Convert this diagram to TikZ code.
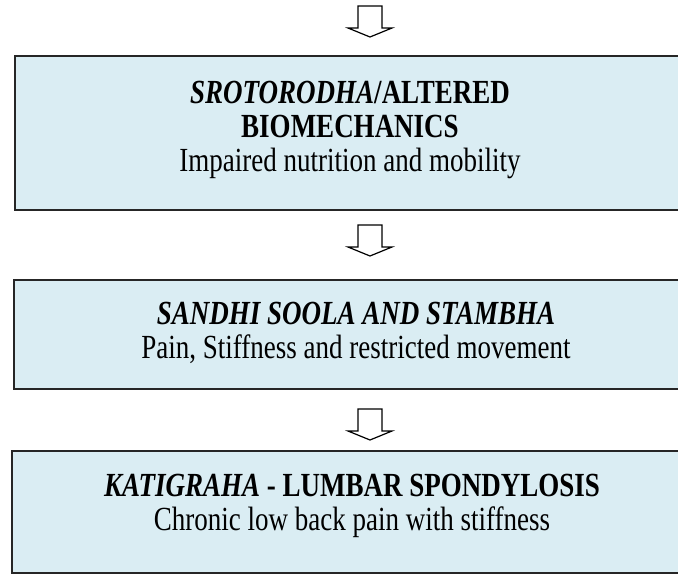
\documentclass[tikz,border=0pt]{standalone}
\usepackage{graphicx}
\usepackage{fontspec}
\setmainfont{Liberation Serif}
\definecolor{boxfill}{HTML}{DAEDF3}
\newcommand{\tallstack}[1]{\scalebox{1}[1.25]{\fontsize{27}{27.2}\selectfont\begin{tabular}{@{}c@{}}#1\end{tabular}}}
\begin{document}
\begin{tikzpicture}[x=1pt,y=-1pt,
  flowbox/.style={draw=black!85,line width=1.5pt,fill=boxfill,rectangle,inner sep=0pt},
  boxtext/.style={align=center,inner sep=0pt},
  arrowline/.style={draw=black,line width=1.2pt,fill=white,line join=miter},
  downarrow/.pic={\path[arrowline] (-12,0) -- (12,0) -- (12,22) -- (22,22) -- (0,31) -- (-22,22) -- (-12,22) -- cycle;}
]
\useasboundingbox (0,0) rectangle (678,574);
% arrows
\pic (a1) at (370,6) {downarrow};
\pic (a2) at (370,225) {downarrow};
\pic (a3) at (370,409) {downarrow};
% boxes
\node[flowbox,minimum width=676pt,minimum height=154pt,anchor=north west] (b1) at (14,55) {};
\node[flowbox,minimum width=677pt,minimum height=109pt,anchor=north west] (b2) at (13,279) {};
\node[flowbox,minimum width=679pt,minimum height=122pt,anchor=north west] (b3) at (11,450) {};
% texts
\node[boxtext] (t1) at (350,131) {\tallstack{\textbf{\textit{SROTORODHA}/ALTERED}\\ \textbf{BIOMECHANICS}\\ Impaired nutrition and mobility}};
\node[boxtext] (t2) at (356,335) {\tallstack{\textbf{\textit{SANDHI SOOLA AND STAMBHA}}\\ Pain, Stiffness and restricted movement}};
\node[boxtext] (t3) at (352,507) {\tallstack{\textbf{\textit{KATIGRAHA} - LUMBAR SPONDYLOSIS}\\ Chronic low back pain with stiffness}};
\end{tikzpicture}
\end{document}
